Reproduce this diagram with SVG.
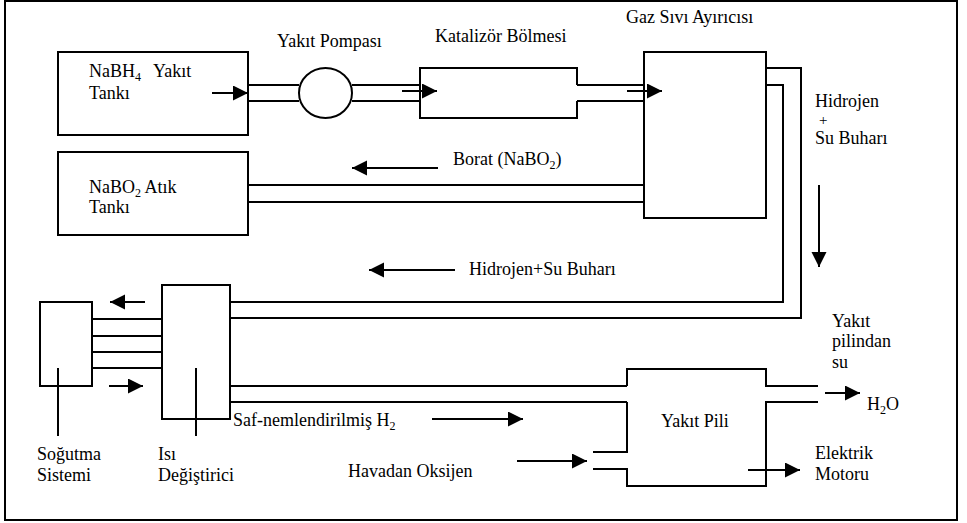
<svg xmlns="http://www.w3.org/2000/svg" width="967" height="523" viewBox="0 0 967 523">
<style>
.box{fill:none;stroke:#000;stroke-width:2}
.ln{fill:none;stroke:#000;stroke-width:2}
.ar{fill:none;stroke:#000;stroke-width:2;marker-end:url(#ah)}
text{font-family:"Liberation Serif","Times New Roman",serif;font-size:18px;fill:#000}
.sub{font-size:12px}
</style>
<defs>
<marker id="ah" markerUnits="userSpaceOnUse" markerWidth="16" markerHeight="16" refX="15" refY="7.5" orient="auto">
<path d="M0,0 L15,7.5 L0,15 z" fill="#000"/>
</marker>
</defs>
<rect x="0" y="0" width="967" height="523" fill="#fff"/>
<rect x="5" y="1" width="952" height="519" class="box"/>

<g id="fuel-tank">
<rect x="58" y="52" width="190" height="83" class="box"/>
<text x="89" y="77">NaBH<tspan class="sub" dy="4">4</tspan><tspan dy="-4" x="153">Yakıt</tspan></text>
<text x="89" y="99">Tankı</text>
</g>

<g id="waste-tank">
<rect x="58" y="152" width="190" height="83" class="box"/>
<text x="89" y="193">NaBO<tspan class="sub" dy="4">2</tspan><tspan dy="-4"> Atık</tspan></text>
<text x="89" y="213">Tankı</text>
</g>

<g id="pump">
<ellipse cx="325.5" cy="93" rx="26.5" ry="25" class="box"/>
<text x="277" y="47">Yakıt Pompası</text>
</g>

<g id="catalyst">
<path d="M577,85 L577,68 L420,68 L420,118 L577,118 L577,101" class="box"/>
<text x="435" y="42">Katalizör Bölmesi</text>
</g>

<g id="separator">
<rect x="644" y="52" width="122" height="166" class="box"/>
<text x="626" y="23">Gaz Sıvı Ayırıcısı</text>
</g>

<g id="cooling">
<rect x="40" y="302" width="52" height="84" class="box"/>
<line x1="58" y1="368" x2="58" y2="436" class="ln"/>
<text x="37" y="460">Soğutma</text>
<text x="37" y="481">Sistemi</text>
</g>

<g id="heat-exchanger">
<rect x="162" y="285" width="68" height="134" class="box"/>
<line x1="196" y1="368" x2="196" y2="436" class="ln"/>
<text x="158" y="460">Isı</text>
<text x="158" y="481">Değiştirici</text>
</g>

<g id="fuel-cell">
<path d="M627,386 L627,369 L766,369 L766,386 L818,386 M818,402 L766,402 L766,486 L627,486 L627,469 L593,469 M627,402 L627,452 L593,452" class="ln"/>
<text x="661" y="427">Yakıt Pili</text>
</g>

<g id="connectors">
<line x1="248" y1="85" x2="299" y2="85" class="ln"/>
<line x1="248" y1="101" x2="299" y2="101" class="ln"/>
<line x1="212" y1="93" x2="248" y2="93" class="ar"/>
<line x1="352" y1="85" x2="420" y2="85" class="ln"/>
<line x1="352" y1="101" x2="420" y2="101" class="ln"/>
<line x1="402" y1="91" x2="437" y2="91" class="ar"/>
<line x1="577" y1="85" x2="644" y2="85" class="ln"/>
<line x1="577" y1="101" x2="644" y2="101" class="ln"/>
<line x1="627" y1="91" x2="662" y2="91" class="ar"/>
<line x1="248" y1="185" x2="644" y2="185" class="ln"/>
<line x1="248" y1="202" x2="644" y2="202" class="ln"/>
<line x1="438" y1="168" x2="352" y2="168" class="ar"/>
<text x="453" y="165">Borat (NaBO<tspan class="sub" dy="4">2</tspan><tspan dy="-4">)</tspan></text>
<path d="M766,68 L801,68 L801,318 L230,318" class="ln"/>
<path d="M766,85 L783,85 L783,302 L230,302" class="ln"/>
<text x="815" y="107">Hidrojen</text>
<text x="819" y="125" style="font-size:15px">+</text>
<text x="815" y="144">Su Buharı</text>
<line x1="819" y1="185" x2="819" y2="267" class="ar"/>
<line x1="455" y1="270" x2="369" y2="270" class="ar"/>
<text x="469" y="275">Hidrojen+Su Buharı</text>
<line x1="92" y1="319" x2="162" y2="319" class="ln"/>
<line x1="92" y1="336" x2="162" y2="336" class="ln"/>
<line x1="92" y1="352" x2="162" y2="352" class="ln"/>
<line x1="92" y1="368" x2="162" y2="368" class="ln"/>
<line x1="145" y1="302" x2="110" y2="302" class="ar"/>
<line x1="109" y1="386" x2="143" y2="386" class="ar"/>
<line x1="230" y1="386" x2="627" y2="386" class="ln"/>
<line x1="230" y1="402" x2="627" y2="402" class="ln"/>
<text x="233" y="426">Saf-nemlendirilmiş H<tspan class="sub" dy="4">2</tspan></text>
<line x1="432" y1="419" x2="523" y2="419" class="ar"/>
<text x="348" y="477">Havadan Oksijen</text>
<line x1="517" y1="461" x2="587" y2="461" class="ar"/>
<text x="832" y="327">Yakıt</text>
<text x="832" y="347">pilindan</text>
<text x="832" y="368">su</text>
<line x1="825" y1="393" x2="860" y2="393" class="ar"/>
<text x="867" y="410">H<tspan class="sub" dy="4">2</tspan><tspan dy="-4">O</tspan></text>
<line x1="748" y1="470" x2="800" y2="470" class="ar"/>
<text x="815" y="459">Elektrik</text>
<text x="815" y="480">Motoru</text>
</g>
</svg>
